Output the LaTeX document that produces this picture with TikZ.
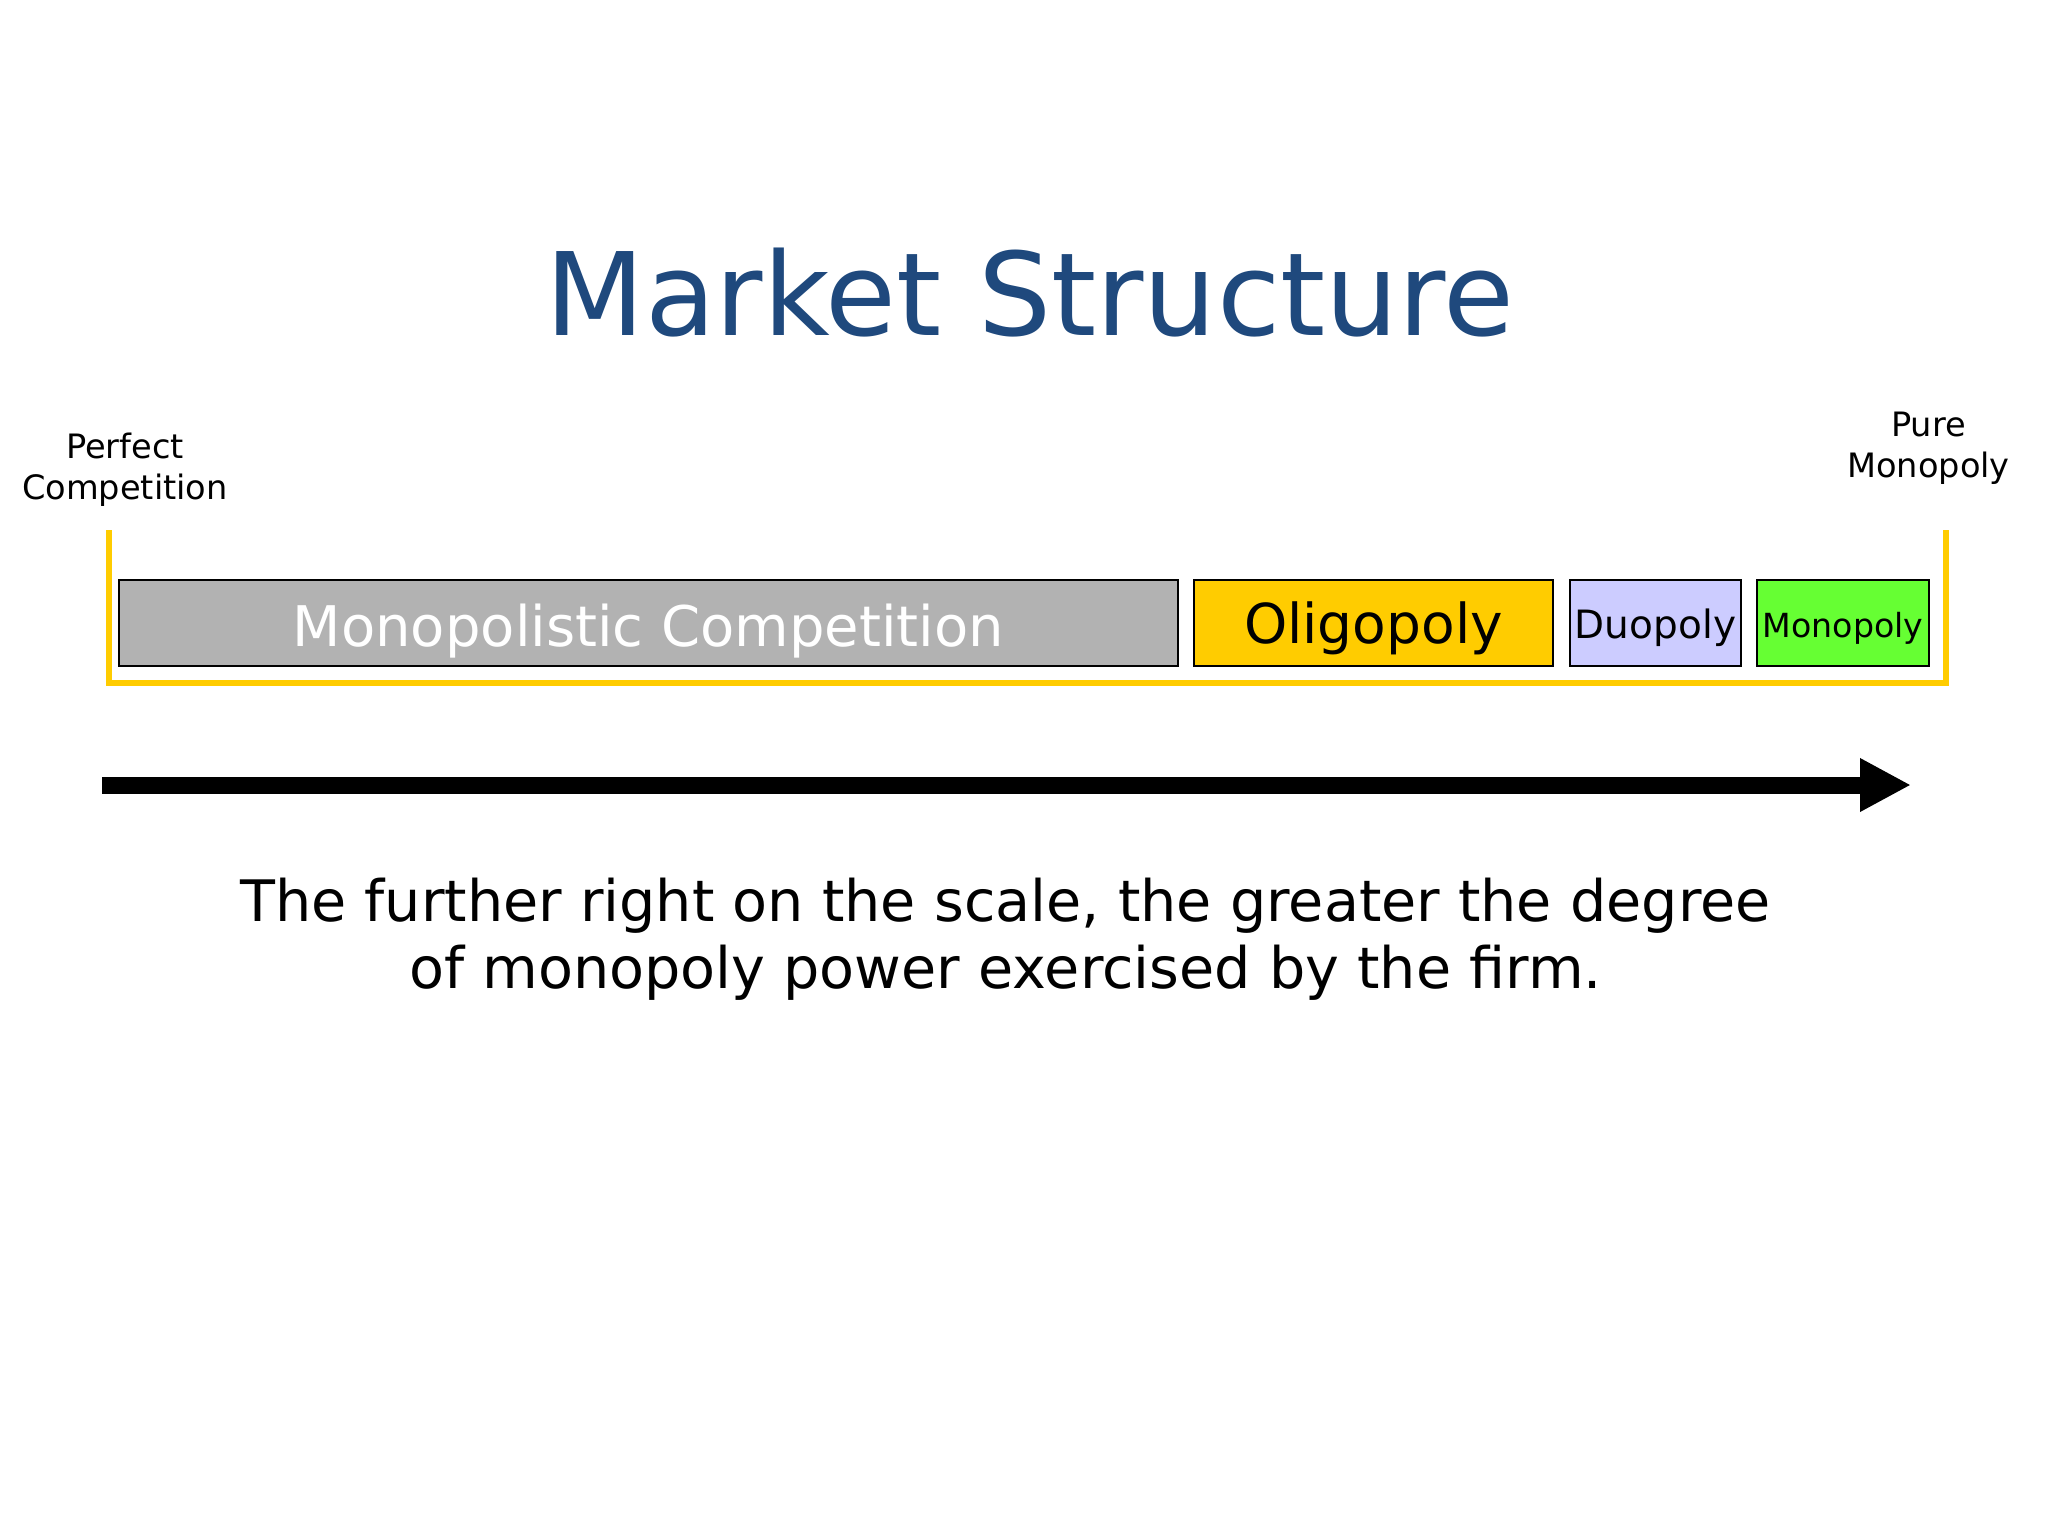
\documentclass[tikz,border=0pt]{standalone}
\usepackage{fontspec}
\setmainfont{DejaVu Sans}
\usetikzlibrary{arrows.meta}
\definecolor{titleblue}{HTML}{1F497D}
\definecolor{boxgray}{HTML}{B2B2B2}
\definecolor{oliyellow}{HTML}{FFCC00}
\definecolor{duolilac}{HTML}{CCCCFF}
\definecolor{monogreen}{HTML}{66FF33}
\tikzset{
  seg/.style={draw=black, line width=0.8pt, minimum height=43pt, inner sep=0pt,
              text depth=0pt},
  endlabel/.style={inner sep=0pt, anchor=base, align=center,
              font=\fontsize{16.8pt}{20.5pt}\selectfont},
  bracket/.style={draw=oliyellow, line width=3pt, line join=miter},
  scalearrow/.style={line width=8.5pt, -{Triangle[length=25.5pt,width=25pt]}}
}
\begin{document}
\begin{tikzpicture}[x=0.5pt, y=-0.5pt]
\fill[white] (0,0) rectangle (2048,1536);
\useasboundingbox (0,0) rectangle (2048,1536);

\node[inner sep=0pt, anchor=base, text=titleblue, font=\fontsize{57.6pt}{68pt}\selectfont]
  (title) at (1030,335) {Market Structure};

% anchor=base of a multi-line node sits on its last line
\node[endlabel] (perfect) at (125,499) {Perfect\\Competition};
\node[endlabel] (pure) at (1928.5,477) {Pure\\Monopoly};

\coordinate (bTL) at (109,530);
\coordinate (bBL) at (109,683);
\coordinate (bBR) at (1946,683);
\coordinate (bTR) at (1946,530);
\draw[bracket] (bTL) -- (bBL) -- (bBR) -- (bTR);

\node[seg, fill=boxgray, text=white, minimum width=529.5pt, text height=23pt,
      font=\fontsize{28pt}{34pt}\selectfont] (moncomp) at (648.5,623) {Monopolistic Competition};
\node[seg, fill=oliyellow, minimum width=179.5pt, text height=20pt,
      font=\fontsize{27.5pt}{34pt}\selectfont] (oligo) at (1373.5,623) {Oligopoly};
\node[seg, fill=duolilac, minimum width=85.5pt, text height=15pt,
      font=\fontsize{19.5pt}{23pt}\selectfont] (duo) at (1655.5,623) {Duopoly};
\node[seg, fill=monogreen, minimum width=86pt, text height=14pt,
      font=\fontsize{16.6pt}{20pt}\selectfont] (mono) at (1843,623) {Monopoly};

\coordinate (arrS) at (102,785);
\coordinate (arrE) at (1911,785);
\draw[scalearrow] (arrS) -- (arrE);

\node[inner sep=0pt, anchor=base, align=center, font=\fontsize{28.6pt}{33.5pt}\selectfont]
  (caption) at (1005.5,988) {The further right on the scale, the greater the degree\\of monopoly power exercised by the firm.};
\end{tikzpicture}
\end{document}
